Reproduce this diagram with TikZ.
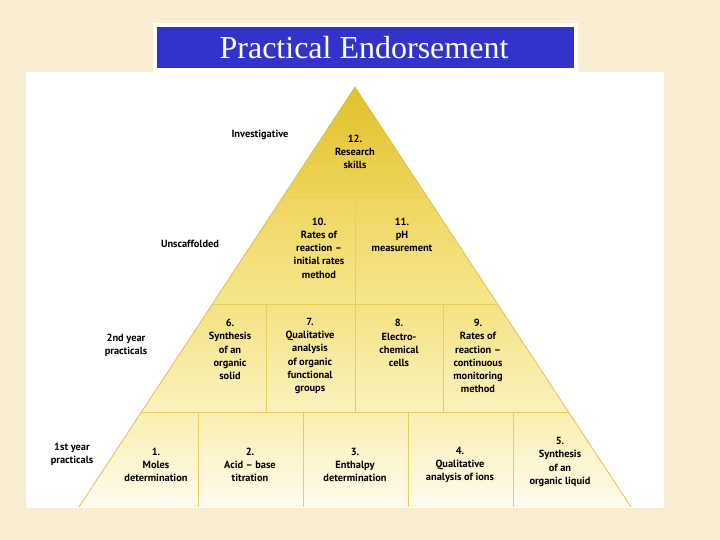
\documentclass[tikz,border=0pt]{standalone}
\usepackage{fontspec}
\setmainfont{Liberation Serif}
\newfontfamily\lblfont[Ligatures=TeX]{PT Sans}
\usetikzlibrary{calc}
\definecolor{parchment}{RGB}{250,238,210}
\definecolor{titleblue}{RGB}{51,51,204}
\definecolor{tierAtop}{RGB}{226,192,44}
\definecolor{tierAbot}{RGB}{238,213,90}
\definecolor{tierBtop}{RGB}{240,214,96}
\definecolor{tierBbot}{RGB}{246,230,140}
\definecolor{tierCtop}{RGB}{245,226,130}
\definecolor{tierCbot}{RGB}{250,242,190}
\definecolor{tierDtop}{RGB}{250,238,175}
\definecolor{tierDbot}{RGB}{254,252,238}
\definecolor{divcolor}{RGB}{230,206,96}
\definecolor{edgecolor}{RGB}{214,190,72}
\tikzset{
  cellln/.style={draw=divcolor, line width=0.9pt},
  edgeln/.style={draw=edgecolor, line width=0.7pt, line join=round},
  celltxt/.style={align=center, inner sep=0pt,
    font=\lblfont\bfseries\fontsize{10.4}{13.2}\selectfont},
  sidetxt/.style={celltxt},
  titletxt/.style={text=white, inner sep=0pt, font=\fontsize{32}{35}\selectfont},
}
\newcommand{\tiershade}[3]{%
  \shade[top color=#1, bottom color=#2] #3;
}
\begin{document}
\begin{tikzpicture}[x=1pt, y=-1pt]
    % Background and panels
    \fill[parchment] (0,0) rectangle (720,540);
    \useasboundingbox (0,0) rectangle (720,540);
    \fill[white] (26,72) rectangle (664,508);
    \fill[white] (153,23) rectangle (578,72);
    \fill[titleblue] (157,27) rectangle (574,68);
    \node[titletxt] (title) at (364,48) {Practical Endorsement};
    % Tiers of the pyramid
    \tiershade{tierAtop}{tierAbot}{(355,87) -- (427.3,197) -- (282.7,197) -- cycle}
    \tiershade{tierBtop}{tierBbot}{(282.7,197) -- (427.3,197) -- (497.6,304) -- (212.4,304) -- cycle}
    \tiershade{tierCtop}{tierCbot}{(212.4,304) -- (497.6,304) -- (568.6,412) -- (141.4,412) -- cycle}
    \tiershade{tierDtop}{tierDbot}{(141.4,412) -- (568.6,412) -- (631,507) -- (79,507) -- cycle}
    % Dividers
    \draw[cellln] (282.7,197) -- (427.3,197);
    \draw[cellln] (212.4,304) -- (497.6,304);
    \draw[cellln] (141.4,412) -- (568.6,412);
    \draw[cellln] (355,197) -- (355,304);
    \foreach \xd in {266,355,443}
      \draw[cellln] (\xd,304) -- (\xd,412);
    \foreach \xd in {198,303,408,513}
      \draw[cellln] (\xd,412) -- (\xd,507);
    \draw[edgeln] (79,507) -- (355,87) -- (631,507);
    % Side labels
    \node[sidetxt] (investig) at (260,135) {Investigative};
    \node[sidetxt] (unscaff) at (190,244) {Unscaffolded};
    \node[sidetxt] (second) at (126,345.5) {2nd year\\practicals};
    \node[sidetxt] (first) at (72,454) {1st year\\practicals};
    % Cell texts
    \node[celltxt] (c12) at (355,152) {12.\\Research\\skills};
    \node[celltxt] (c10) at (319,248) {10.\\Rates of\\reaction \textendash\\initial rates\\method};
    \node[celltxt] (c11) at (402,235) {11.\\pH\\measurement};
    \node[celltxt] (c6) at (230,349.5) {6.\\Synthesis\\of an\\organic\\solid};
    \node[celltxt] (c7) at (310,356) {7.\\Qualitative\\analysis\\of organic\\functional\\groups};
    \node[celltxt] (c8) at (399,343) {8.\\Electro-\\chemical\\cells};
    \node[celltxt] (c9) at (478,356) {9.\\Rates of\\reaction \textendash\\continuous\\monitoring\\method};
    \node[celltxt] (c1) at (156,465) {1.\\Moles\\determination};
    \node[celltxt] (c2) at (250,465) {2.\\Acid \textendash{} base\\titration};
    \node[celltxt] (c3) at (355,465) {3.\\Enthalpy\\determination};
    \node[celltxt] (c4) at (460,465) {4.\\Qualitative\\analysis of ions};
    \node[celltxt] (c5) at (560,462) {5.\\Synthesis\\of an\\organic liquid};
  \end{tikzpicture}
\end{document}
